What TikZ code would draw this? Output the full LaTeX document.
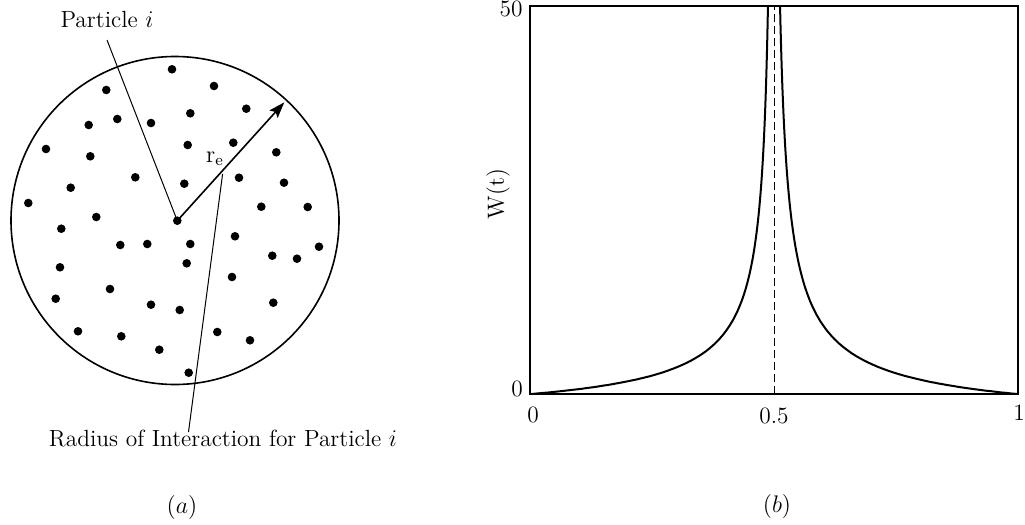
\documentclass[tikz,border=0pt]{standalone}
\usetikzlibrary{arrows.meta}
\begin{document}
\begin{tikzpicture}[x=0.5pt,y=-0.5pt,
  font=\fontsize{11.7}{14}\selectfont,
  dot/.style={circle,fill=black,inner sep=0pt,minimum size=4.3pt},
  leader/.style={line width=0.5pt},
  rim/.style={line width=0.8pt},
  radiusarrow/.style={line width=0.8pt,-{Stealth[length=8pt,width=5.5pt,inset=1.5pt]}},
  frame/.style={line width=1pt},
  curve/.style={line width=1pt,line join=round},
  dashline/.style={line width=0.5pt,dash pattern=on 4pt off 2pt}]
\useasboundingbox (0,0) rectangle (1025,525);

% ---------- (a) ----------
\draw[rim] (175,220.5) circle [radius=82pt];
\foreach \px/\py [count=\i] in {172/69.3,214/86,106.3/90,246.3/108.7,190.3/113.3,117.3/119,151/123,88.7/125,187.7/145,233.3/142.7,46/149,90.3/156.3,276.3/152.3,135.3/177.3,239/177.7,184.3/183.7,70.7/187.7,284/182.7,28.3/203,261.3/206.7,307.7/207,96.3/217,61.3/228.7,120.3/245,147.3/244,190.3/244,235/236.3,319/246.7,186.7/263.3,272.3/255.7,297/258.7,60/267.3,232/277,110/289,55.7/298.7,151/304.7,179.7/310,273.3/302.7,78/331.3,121.3/336.3,217.3/332,250/340.3,159.3/349.7,188.7/372.7}
  \node[dot] (d\i) at (\px,\py) {};
\node[dot] (pi) at (177.3,220.7) {};

\node (plabel) at (107,19.5) {Particle $i$};
\coordinate (pstart) at (107,40);
\draw[leader] (pstart) -- (pi.center);

\coordinate (rimpt) at (284.3,102.3);
\draw[radiusarrow] (pi.center) -- (rimpt);
\node (re) at (215,159) {$\mathrm{r_e}$};

\node[anchor=base] (rlabel) at (223,446.7) {Radius of Interaction for Particle $i$};
\coordinate (rtop) at (222.6,174);
\coordinate (rbot) at (188.5,432);
\draw[leader] (rtop) -- (rbot);

\node (capa) at (182,507) {$(a)$};

% ---------- (b) ----------
\begin{scope}
\clip (530,6) rectangle (1018,394);
\draw[curve] plot[domain=1.686:5.495,samples=160] ({773.5-exp(\x)},{394-1383*(exp(-0.7*\x)-0.02136)});
\draw[curve] plot[domain=1.8245:5.499,samples=160] ({773.5+exp(\x)},{394-1572*(exp(-0.7*\x)-0.0213)});
\end{scope}
\draw[dashline] (774,394) -- (774,6);
\draw[frame] (530,6) rectangle (1018,394);

\node (y50) at (511,9.2) {50};
\node (y0) at (517,389) {0};
\node (x0) at (533,415) {0};
\node (x05) at (774,415.5) {0.5};
\node (x1) at (1019,412.5) {1};
\node[rotate=90] (ylab) at (498,194) {W(t)};
\node (capb) at (777,506) {$(b)$};
\end{tikzpicture}
\end{document}
